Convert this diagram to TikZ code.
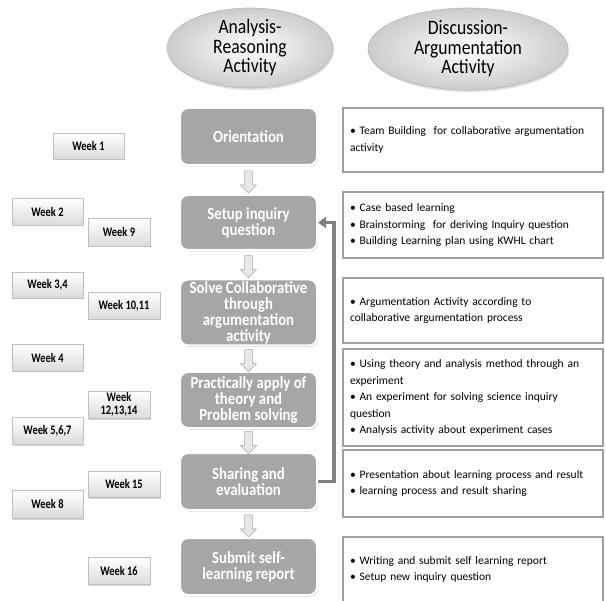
\documentclass[tikz,border=0pt]{standalone}
\usepackage{fontspec}
\setmainfont{Carlito}
\newfontfamily\narrowfont[FakeStretch=0.8]{Carlito}
\newfontfamily\headfont[FakeStretch=0.86]{Carlito}
\newfontfamily\stepfont[FakeStretch=0.87]{Carlito}
\usetikzlibrary{shapes.geometric,shapes.arrows,shadows,arrows.meta,calc}

\definecolor{stepgray}{HTML}{A6A6A6}
\definecolor{linkgray}{HTML}{808080}
\definecolor{boxline}{HTML}{A0A0A0}

\tikzset{
  headoval/.style={ellipse, inner sep=0pt, draw=gray!55, line width=0.6pt,
    inner color=white, outer color=gray!40,
    drop shadow={opacity=0.25, shadow xshift=1pt, shadow yshift=-2pt},
    align=center, font=\headfont\fontsize{20.5}{19.5}\selectfont},
  stepbox/.style={rectangle, rounded corners=8pt, fill=stepgray, draw=white,
    line width=2pt, minimum width=137pt, inner sep=0pt, align=center,
    text=white, font=\stepfont\bfseries\fontsize{17}{16}\selectfont,
    drop shadow={opacity=0.35, shadow xshift=1pt, shadow yshift=-1.5pt}},
  weekbox/.style={rectangle, draw=gray!50, line width=0.6pt, top color=white,
    bottom color=gray!28, inner sep=0pt, align=center,
    font=\narrowfont\bfseries\fontsize{13}{13}\selectfont,
    drop shadow={opacity=0.3, shadow xshift=1pt, shadow yshift=-1.5pt}},
  notebox/.style={rectangle, draw=boxline, line width=1.6pt, fill=white,
    text width=246pt, inner xsep=7pt, inner ysep=0pt, align=left,
    font=\fontsize{11.5}{16.5}\selectfont,
    drop shadow={opacity=0.15, shadow xshift=0.8pt, shadow yshift=-0.8pt}},
  downarr/.style={single arrow, shape border rotate=270, draw=gray!70,
    fill=gray!18, line width=0.6pt, minimum height=22pt, minimum width=16pt,
    inner sep=3.5pt, single arrow head extend=4pt},
  loopback/.style={draw=linkgray, line width=3.5pt,
    -{Triangle[width=11pt,length=8pt]}}
}

\begin{document}
\begin{tikzpicture}[x=1pt,y=-1pt]
\clip (0,0) rectangle (605,601);
\fill[white] (0,0) rectangle (605,601);

% column headings
\node[headoval, minimum width=166pt, minimum height=80pt] (hA) at (250,48)
  {Analysis-\\Reasoning\\Activity};
\node[headoval, minimum width=200pt, minimum height=82pt] (hD) at (468,49)
  {Discussion-\\Argumentation\\Activity};

% process steps
\node[stepbox, minimum height=57pt] (orient) at (248.5,136.5) {Orientation};
\node[stepbox, minimum height=55pt] (setup) at (248.5,222.5) {Setup inquiry\\question};
\node[stepbox, minimum height=66pt] (solve) at (248.5,312.5)
  {Solve Collaborative\\through\\argumentation\\activity};
\node[stepbox, minimum height=56pt] (apply) at (248.5,400)
  {Practically apply of\\theory and\\Problem solving};
\node[stepbox, minimum height=57pt] (share) at (248.5,481.5) {Sharing and\\evaluation};
\node[stepbox, minimum height=57pt] (submit) at (248.5,566.5) {Submit self-\\learning report};

% arrows between steps
\node[downarr] (a1) at ($(orient.south)!0.5!(setup.north)$) {};
\node[downarr] (a2) at ($(setup.south)!0.5!(solve.north)$) {};
\node[downarr] (a3) at ($(solve.south)!0.5!(apply.north)$) {};
\node[downarr] (a4) at ($(apply.south)!0.5!(share.north)$) {};
\node[downarr] (a5) at ($(share.south)!0.5!(submit.north)$) {};

% return path from sharing back to the inquiry question
\draw[loopback] (share.east) -- ++(16,0) |- (setup.east);

% week labels
\node[weekbox, minimum width=71pt, minimum height=26pt] (w1) at (88.5,146) {Week 1};
\node[weekbox, minimum width=71pt, minimum height=27pt] (w2) at (47.5,211.5) {Week 2};
\node[weekbox, minimum width=62pt, minimum height=28pt] (w9) at (119,232) {Week 9};
\node[weekbox, minimum width=71pt, minimum height=26pt] (w34) at (47.5,285) {Week 3,4};
\node[weekbox, minimum width=72pt, minimum height=27pt] (w1011) at (124,305.5) {Week 10,11};
\node[weekbox, minimum width=71pt, minimum height=27pt] (w4) at (47.5,357.5) {Week 4};
\node[weekbox, minimum width=62pt, minimum height=27pt] (w121314) at (119,404.5) {Week\\12,13,14};
\node[weekbox, minimum width=71pt, minimum height=27pt] (w567) at (47.5,430.5) {Week 5,6,7};
\node[weekbox, minimum width=72pt, minimum height=26pt] (w15) at (124,484) {Week 15};
\node[weekbox, minimum width=71pt, minimum height=28pt] (w8) at (47.5,504) {Week 8};
\node[weekbox, minimum width=62pt, minimum height=27pt] (w16) at (119,570.5) {Week 16};

% discussion activities
\node[notebox, minimum height=64pt] (n1) at (473,140)
  {\textbullet\ Team Building\ \ for collaborative argumentation\\activity};
\node[notebox, minimum height=66pt] (n2) at (473,225)
  {\textbullet\ Case based learning\\
   \textbullet\ Brainstorming\ \ for deriving Inquiry question\\
   \textbullet\ Building Learning plan using KWHL chart};
\node[notebox, minimum height=65pt] (n3) at (473,310.5)
  {\textbullet\ Argumentation Activity according to\\
   collaborative argumentation process};
\node[notebox, minimum height=97pt] (n4) at (473,397.5)
  {\textbullet\ Using theory and analysis method through an\\
   experiment\\
   \textbullet\ An experiment for solving science inquiry\\
   question\\
   \textbullet\ Analysis activity about experiment cases};
\node[notebox, minimum height=67pt] (n5) at (473,483.5)
  {\textbullet\ Presentation about learning process and result\\
   \textbullet\ learning process and result sharing};
\node[notebox, minimum height=65pt] (n6) at (473,569.5)
  {\textbullet\ Writing and submit self learning report\\
   \textbullet\ Setup new inquiry question};
\end{tikzpicture}
\end{document}
